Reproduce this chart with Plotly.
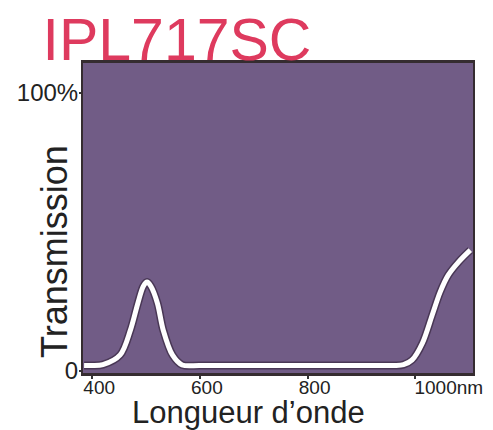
import plotly.graph_objects as go

# Transmission curve (wavelength nm, transmission %)
wavelength = [385, 400, 420, 452, 471, 485, 495, 502, 509, 521, 532, 549, 567,
              600, 700, 800, 900, 960, 978, 994, 1013, 1031, 1046, 1061, 1080, 1102]
transmission = [2, 2, 2.3, 5.8, 14.7, 24.5, 30.5, 32, 30.5, 24.5, 14.7, 5.8, 2.2,
                2, 2, 2, 2, 2, 2.3, 4, 10, 20, 28.4, 34.5, 39.2, 43.5]

x_tick_vals = [400, 600, 800, 1000]
x_tick_text = ["400", "600", "800", "\u00a0" * 10 + "1000nm"]
y_tick_vals = [0, 100]
y_tick_text = ["0", "100%"]

title_text = "IPL717SC"
x_title = "Longueur d\u2019onde"
y_title = "Transmission"

fig = go.Figure()
fig.add_trace(go.Scatter(x=wavelength, y=transmission, mode="lines",
                         line=dict(color="rgba(40,25,45,0.55)", width=8, shape="spline", smoothing=0.9),
                         hoverinfo="skip", showlegend=False))
fig.add_trace(go.Scatter(x=wavelength, y=transmission, mode="lines",
                         line=dict(color="white", width=5, shape="spline", smoothing=0.9),
                         showlegend=False))

# the page body adds an 8px offset, so the figure is 8px smaller on each side
W, H, OFF = 485, 422, 8
font_main = "Liberation Sans, Arial, sans-serif"
fig.update_layout(
    width=W, height=H,
    margin=dict(l=75, r=20, t=55, b=57),
    paper_bgcolor="white",
    plot_bgcolor="#715c86",
    title=dict(text=title_text, x=(177-OFF)/W, xanchor="center", xref="container",
               y=1-(39-OFF)/H, yanchor="middle", yref="container",
               font=dict(family=font_main, size=59, color="#de3a5e")),
    xaxis=dict(range=[383, 1107], tickvals=x_tick_vals, ticktext=x_tick_text,
               ticks="outside", ticklen=3, tickcolor="#333", tickwidth=2,
               ticklabelshift=7, ticklabelstandoff=-8, ticklabeloverflow="allow",
               automargin=False,
               showgrid=False, zeroline=False, showline=True, mirror=True,
               linecolor="#352c30", linewidth=3,
               tickfont=dict(family=font_main, size=19, color="#222")),
    yaxis=dict(range=[-0.7, 110.8], tickvals=y_tick_vals, ticktext=y_tick_text,
               ticks="outside", ticklen=2, tickcolor="#333", tickwidth=2,
               ticklabelstandoff=-4, automargin=False,
               showgrid=False, zeroline=False, showline=True, mirror=True,
               linecolor="#352c30", linewidth=2,
               tickfont=dict(family=font_main, size=24, color="#222")),
    annotations=[
        dict(text=x_title, xref="paper", yref="paper", x=(248-83)/390, y=(373-412)/310,
             xanchor="center", yanchor="middle", showarrow=False,
             font=dict(family=font_main, size=31, color="#222")),
        dict(text=y_title, xref="paper", yref="paper", x=(55-83)/390, y=(373-252)/310,
             xanchor="center", yanchor="middle", showarrow=False, textangle=-90,
             font=dict(family=font_main, size=36, color="#222")),
    ],
)

fig.write_html("out.html")
